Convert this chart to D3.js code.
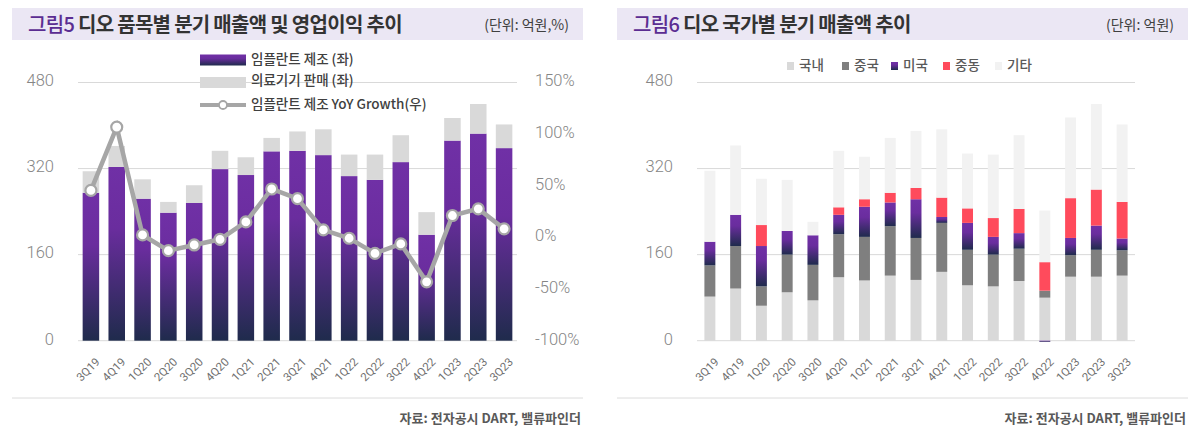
<!DOCTYPE html>
<html><head><meta charset="utf-8">
<script src="https://cdn.jsdelivr.net/npm/d3@7"></script>
<style>
html,body{margin:0;padding:0;background:#fff;}
svg{display:block;font-family:"Noto Sans CJK KR","Noto Sans",sans-serif;}
</style></head>
<body><svg id="c" width="1200" height="435"></svg>
<script>
// ---------- data ----------
const quarters = ["3Q19","4Q19","1Q20","2Q20","3Q20","4Q20","1Q21","2Q21","3Q21","4Q21","1Q22","2Q22","3Q22","4Q22","1Q23","2Q23","3Q23"];
// Figure 5 (억원, %)
const implant = [275,323,264,238,256,319,308,352,353,345,306,299,332,197,372,385,358];
const device  = [40,39,36,20,33,34,33,25,36,48,40,47,50,42,42,55,44];
const implantYoY = [45.5,106.8,2.4,-12.8,-7.3,-1.8,15,46.9,37.5,7.3,-0.8,-15.4,-6.3,-43,21.2,27.7,8.3];
const leftTicks = [0,160,320,480];
const rightTicks = [-100,-50,0,50,100,150];
// Figure 6 (억원)
const regionKeys = ["국내","중국","미국","중동","기타"];
const domestic = [82,97,65,90,75,118,112,121,113,128,103,101,111,80,119,119,121];
const china    = [58,79,36,70,66,80,81,92,78,91,66,59,60,13,40,50,47];
const usa      = [44,58,75,44,55,36,56,44,72,11,50,33,29,-2,32,45,22];
const mideast  = [0,0,39,0,0,14,14,18,21,36,27,35,45,53,74,67,68];
const others   = [132,129,86,95,25,105,79,102,106,127,102,118,137,96,150,159,144];

// ---------- setup ----------
const svg = d3.select("#c");
const defs = svg.append("defs");
const grad = defs.append("linearGradient").attr("id","pg").attr("x1",0).attr("y1",0).attr("x2",0).attr("y2",1);
grad.append("stop").attr("offset","0%").attr("stop-color","#7030a6");
grad.append("stop").attr("offset","35%").attr("stop-color","#6a2d9e");
grad.append("stop").attr("offset","100%").attr("stop-color","#1f2b4c");

const GRID = "#d9d9d9", AX = "#858585";
const Y0 = 340.7, Y1 = 82.5;

function header(x0, x1, numTxt, rest, unit){
  svg.append("rect").attr("x",x0).attr("y",8).attr("width",x1-x0).attr("height",32).attr("fill","#ebe7f4");
  const t = svg.append("text").attr("x",x0+16).attr("y",31.5).attr("font-size",20).attr("font-weight",700)
    .attr("letter-spacing","-0.7px").attr("fill","#333");
  t.append("tspan").attr("fill","#5b2d92").attr("font-weight",500).text(numTxt);
  t.append("tspan").text(" "+rest);
  svg.append("text").attr("x",x1-14).attr("y",30).attr("text-anchor","end").attr("font-size",14)
    .attr("fill","#404040").text(unit);
  svg.append("line").attr("x1",x0).attr("x2",x1).attr("y1",398).attr("y2",398).attr("stroke","#dcdcdc");
  svg.append("text").attr("x",x1-2).attr("y",423).attr("text-anchor","end").attr("font-size",13)
    .attr("font-weight",700).attr("fill","#595959").text("자료: 전자공시 DART, 밸류파인더");
}

function axes(g, y, ticks, xr, labelX){
  g.selectAll(".grid").data(ticks).join("line")
    .attr("x1",xr[0]).attr("x2",xr[1]).attr("y1",d=>y(d)).attr("y2",d=>y(d))
    .attr("stroke",GRID).attr("stroke-width",1);
  const ax = g.append("g").attr("transform",`translate(${xr[0]},0)`)
    .call(d3.axisLeft(y).tickValues(ticks).tickSize(0).tickPadding(xr[0]-labelX));
  ax.select(".domain").remove();
  ax.selectAll("text").attr("font-family","Roboto, sans-serif").attr("font-weight",300)
    .attr("font-size",16.5).attr("fill",AX).attr("dy","0.2em");
}

function xLabels(g, x){
  g.selectAll(".xl").data(quarters).join("text")
    .attr("transform",d=>`translate(${x(d)+x.bandwidth()/2+4},357) rotate(-45)`)
    .attr("text-anchor","end").attr("dy","0.7em").attr("font-family","Roboto, sans-serif")
    .attr("font-size",11.5).attr("fill","#6f6f6f").text(d=>d);
}

// ---------- Figure 5 ----------
header(12, 583, "그림5", "디오 품목별 분기 매출액 및 영업이익 추이", "(단위: 억원,%)");
{
  const g = svg.append("g");
  const x = d3.scaleBand().domain(quarters).range([78,517]).paddingInner(0.36).paddingOuter(0.18);
  const y = d3.scaleLinear().domain([0,480]).range([Y0,Y1]);
  const y2 = d3.scaleLinear().domain([-100,150]).range([Y0,Y1]);
  axes(g, y, leftTicks, [78,517], 54);
  const rax = g.append("g").attr("transform","translate(517,0)")
    .call(d3.axisRight(y2).tickValues(rightTicks).tickSize(0).tickPadding(18).tickFormat(d=>d+"%"));
  rax.select(".domain").remove();
  rax.selectAll("text").attr("font-family","Roboto, sans-serif").attr("font-weight",300)
    .attr("font-size",16.5).attr("fill",AX).attr("dy","0.2em");

  g.selectAll(".imp").data(quarters).join("rect")
    .attr("x",d=>x(d)).attr("width",x.bandwidth())
    .attr("y",(d,i)=>y(implant[i])).attr("height",(d,i)=>y(0)-y(implant[i])).attr("fill","url(#pg)");
  g.selectAll(".dev").data(quarters).join("rect")
    .attr("x",d=>x(d)).attr("width",x.bandwidth())
    .attr("y",(d,i)=>y(implant[i]+device[i])).attr("height",(d,i)=>y(implant[i])-y(implant[i]+device[i])).attr("fill","#d9d9d9");

  const line = d3.line().x((d,i)=>x(quarters[i])+x.bandwidth()/2).y(d=>y2(d));
  g.append("path").datum(implantYoY).attr("d",line).attr("fill","none").attr("stroke","#a6a6a6").attr("stroke-width",4.5);
  g.selectAll(".mk").data(implantYoY).join("circle")
    .attr("cx",(d,i)=>x(quarters[i])+x.bandwidth()/2).attr("cy",d=>y2(d)).attr("r",5.5)
    .attr("fill","#fff").attr("stroke","#a6a6a6").attr("stroke-width",2.2);

  xLabels(g, x);

  // legend
  const L = svg.append("g");
  const lt = (yy, s)=>L.append("text").attr("x",251).attr("y",yy).attr("dy","0.35em").attr("font-size",13.5)
    .attr("font-weight",500).attr("fill","#404040").text(s);
  L.append("rect").attr("x",200).attr("y",54.5).attr("width",46).attr("height",11).attr("fill","url(#pg)");
  lt(59,"임플란트 제조 (좌)");
  L.append("rect").attr("x",200).attr("y",77).attr("width",46).attr("height",11).attr("fill","#d9d9d9");
  lt(80,"의료기기 판매 (좌)");
  L.append("line").attr("x1",200).attr("x2",246).attr("y1",105).attr("y2",105).attr("stroke","#a6a6a6").attr("stroke-width",4);
  L.append("circle").attr("cx",223).attr("cy",105).attr("r",4).attr("fill","#fff").attr("stroke","#a6a6a6").attr("stroke-width",1.8);
  lt(104,"임플란트 제조 YoY Growth(우)");
}

// ---------- Figure 6 ----------
header(617, 1188, "그림6", "디오 국가별 분기 매출액 추이", "(단위: 억원)");
{
  const g = svg.append("g");
  const x = d3.scaleBand().domain(quarters).range([697,1135]).paddingInner(0.575).paddingOuter(0.2875);
  const y = d3.scaleLinear().domain([0,480]).range([Y0,Y1]);
  axes(g, y, leftTicks, [697,1135], 673);
  const series = [domestic, china, usa, mideast, others];
  const rows = quarters.map((q,i)=>{ const o={q}; regionKeys.forEach((k,j)=>o[k]=series[j][i]); return o; });
  const stacked = d3.stack().keys(regionKeys).offset(d3.stackOffsetDiverging)(rows);
  const colors = {"국내":"#d9d9d9","중국":"#7f7f7f","미국":"url(#pg)","중동":"#ff4b5c","기타":"#f2f2f2"};
  g.selectAll(".s").data(stacked).join("g").attr("fill",d=>colors[d.key])
    .selectAll("rect").data(d=>d.filter(v=>v[1]!==v[0])).join("rect")
    .attr("x",d=>x(d.data.q)).attr("width",x.bandwidth())
    .attr("y",d=>y(Math.max(d[0],d[1]))).attr("height",d=>Math.abs(y(d[0])-y(d[1])));
  xLabels(g, x);

  const lx = [787,842,891,943,995];
  const L = svg.append("g");
  regionKeys.forEach((k,i)=>{
    L.append("rect").attr("x",lx[i]).attr("y",62).attr("width",7).attr("height",8).attr("fill",colors[k]);
    L.append("text").attr("x",lx[i]+12).attr("y",65.5).attr("dy","0.35em").attr("font-size",13.5)
      .attr("font-weight",500).attr("fill","#595959").text(k);
  });
}
</script></body></html>
